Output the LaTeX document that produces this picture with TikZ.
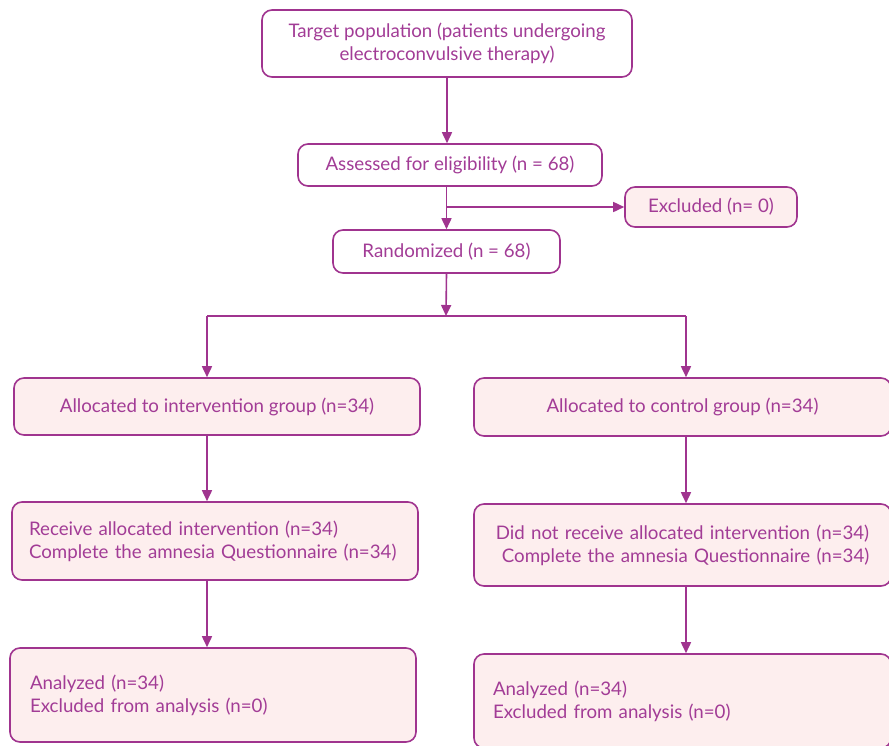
\documentclass[tikz,border=0pt]{standalone}
\usepackage{fontspec}
\setmainfont{Lato}
\usetikzlibrary{arrows.meta,calc}
\definecolor{bord}{HTML}{A0348F}
\definecolor{txt}{HTML}{A23C96}
\definecolor{pinkf}{HTML}{FDEEEE}
\tikzset{
  box/.style={draw=bord, line width=1.6pt, rounded corners=10pt, rectangle, inner sep=0pt, text=txt, font=\fontsize{18.7}{23}\selectfont},
  wbox/.style={box, fill=white},
  pbox/.style={box, fill=pinkf},
  arr/.style={draw=bord, line width=1.6pt, -{Triangle[length=11pt,width=10pt]}},
  ln/.style={draw=bord, line width=1.6pt},
}
\begin{document}
\begin{tikzpicture}[x=1pt,y=-1pt]
\useasboundingbox (0,0) rectangle (889,745);
\clip (0,0) rectangle (889,745);
\node[wbox, minimum width=370, minimum height=67, align=center] (top) at (447,43.5) {Target population (patients undergoing\\electroconvulsive therapy)};
\node[wbox, minimum width=304, minimum height=42] (assess) at (450,165) {Assessed for eligibility (n = 68)};
\node[pbox, minimum width=172, minimum height=40] (excl) at (711,207) {Excluded (n= 0)};
\node[wbox, minimum width=227, minimum height=43] (rand) at (446.5,251.5) {Randomized (n = 68)};
\node[pbox, minimum width=406, minimum height=57] (al) at (217,406.5) {Allocated to intervention group (n=34)};
\node[pbox, minimum width=417, minimum height=58] (ar) at (682.5,407) {Allocated to control group (n=34)};
\node[pbox, minimum width=406, minimum height=78, text width=372, align=left] (rl) at (215,541) {Receive allocated intervention (n=34)\\Complete the amnesia Questionnaire (n=34)};
\node[pbox, minimum width=417, minimum height=82, text width=385, align=center] (rr) at (682.5,545) {Did not receive allocated intervention (n=34)\\\ Complete the amnesia Questionnaire (n=34)};
\node[pbox, minimum width=406, minimum height=94, text width=366, align=left] (nl) at (213,695) {Analyzed (n=34)\\Excluded from analysis (n=0)};
\node[pbox, minimum width=417, minimum height=94, text width=379, align=left] (nr) at (682.5,701) {Analyzed (n=34)\\Excluded from analysis (n=0)};
\coordinate (split) at (446,316);
\coordinate (ls) at (207,316);
\coordinate (rs) at (686,316);
\draw[arr] (top.south -| 447,0) -- (assess.north -| 447,0);
\draw[arr] (assess.south -| rand.north) -- (rand.north);
\draw[arr] (excl.west -| rand.north) -- (excl.west);
\draw[ln] (ls) -- (rs);
\draw[arr] (rand.south) -- (split);
\draw[arr] (ls) -- (al.north -| ls);
\draw[arr] (rs) -- (ar.north -| rs);
\draw[arr] (al.south -| ls) -- (rl.north -| ls);
\draw[arr] (rl.south -| ls) -- (nl.north -| ls);
\draw[arr] (ar.south -| rs) -- (rr.north -| rs);
\draw[arr] (rr.south -| rs) -- (nr.north -| rs);
\end{tikzpicture}
\end{document}
